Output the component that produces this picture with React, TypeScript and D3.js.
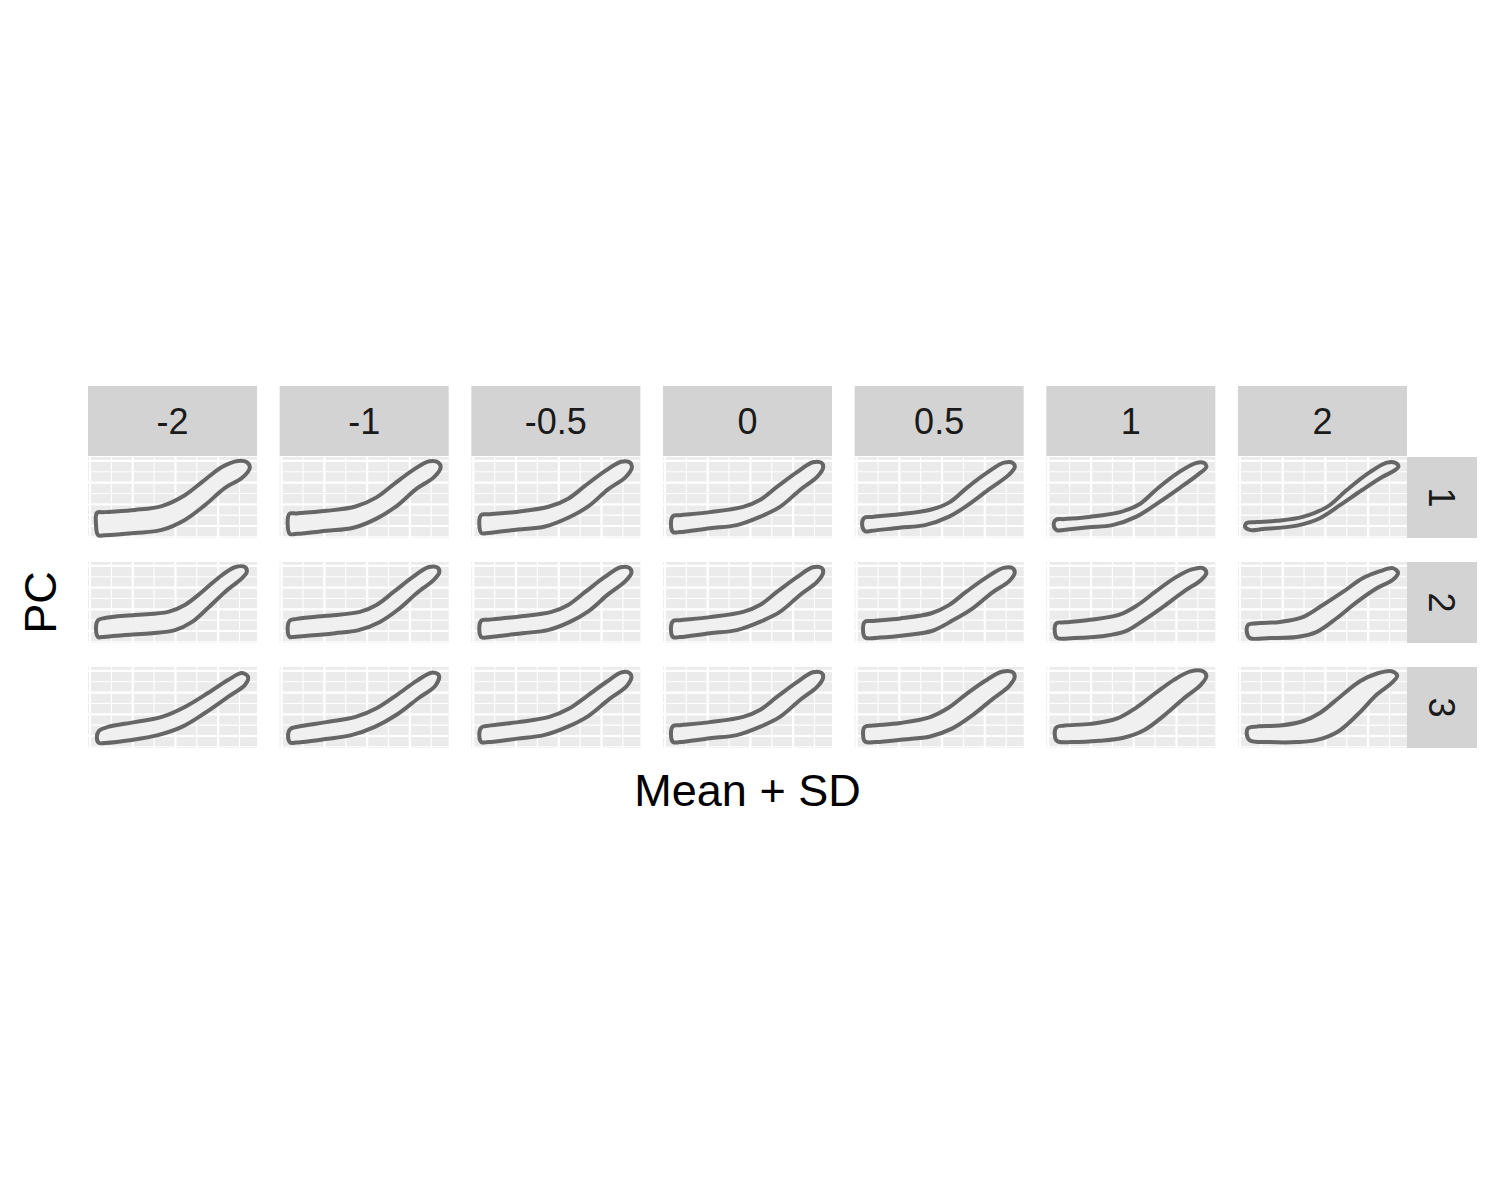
import * as d3 from "d3";

type Pt = [number, number];

// facet levels
const sdLevels = ["-2", "-1", "-0.5", "0", "0.5", "1", "2"];
const pcLevels = ["1", "2", "3"];

// panel scales (shape coordinate units)
const xLimits: [number, number] = [-0.47, 39.1];
const yLimits: [number, number] = [-2.76, 15.9];
const xMajorBreaks = [0, 10, 20, 30];
const xMinorBreaks = [5, 15, 25, 35];
const yMajorBreaks = [0, 5, 10, 15];
const yMinorBreaks = [-2.5, 2.5, 7.5, 12.5];

// outlines
const meanShape: Pt[] = [[1.9,2.3],[3.5,2.5],[10.5,3.2],[18.3,4.4],[22.2,6.0],[26.2,9.0],[30.9,12.4],[34.6,14.7],[36.7,14.5],[37.0,13.4],[35.6,11.3],[31.6,8.3],[26.9,4.4],[22.2,2.1],[16.8,0.2],[10.5,-0.5],[3.5,-1.4],[1.9,-1.4],[1.4,0.2]];

const pc1Shapes: Pt[][] = [
  [[1.6,3.0],[3.5,3.2],[10.5,3.7],[16.8,4.6],[22.2,7.1],[26.2,10.1],[30.9,13.6],[34.6,15.0],[36.7,14.7],[37.4,13.4],[35.6,11.1],[31.6,8.8],[26.9,4.8],[22.2,1.4],[16.8,-0.9],[10.5,-1.6],[3.5,-2.1],[1.9,-2.1],[1.4,0.5]],
  [[1.8,2.8],[3.5,2.9],[10.5,3.5],[17.3,4.5],[22.2,6.6],[26.2,9.6],[30.9,13.0],[34.6,14.9],[36.7,14.6],[37.2,13.4],[35.6,11.2],[31.6,8.6],[26.9,4.6],[22.2,1.7],[16.8,-0.4],[10.5,-1.1],[3.5,-1.8],[1.9,-1.8],[1.4,0.4]],
  [[1.8,2.5],[3.5,2.7],[10.5,3.3],[17.8,4.5],[22.2,6.3],[26.2,9.3],[30.9,12.7],[34.6,14.8],[36.7,14.6],[37.1,13.4],[35.6,11.2],[31.6,8.5],[26.9,4.5],[22.2,1.9],[16.8,-0.1],[10.5,-0.8],[3.5,-1.6],[1.9,-1.6],[1.4,0.3]],
  meanShape,
  [[1.8,1.9],[3.6,2.1],[10.0,2.7],[17.5,3.8],[21.8,5.5],[25.8,8.8],[30.7,12.4],[34.5,14.6],[36.6,14.5],[37.0,13.5],[35.4,11.6],[31.2,8.6],[26.0,4.8],[21.5,2.1],[16.0,0.2],[10.0,-0.4],[3.5,-1.1],[2.0,-1.2],[1.3,0.1]],
  [[1.7,1.4],[3.8,1.6],[9.6,2.1],[16.8,3.2],[21.3,5.0],[25.5,8.6],[30.6,12.4],[34.5,14.5],[36.5,14.5],[37.0,13.6],[35.1,11.9],[30.8,8.8],[25.2,5.0],[20.5,2.1],[15.0,0.2],[9.5,-0.3],[3.5,-0.9],[2.1,-1.0],[1.3,0]],
  [[1.6,0.7],[4.0,0.9],[8.7,1.2],[14.7,2.1],[20.4,4.4],[25.0,8.3],[30.4,12.4],[34.4,14.6],[36.3,14.6],[37.1,13.7],[36.2,12.8],[33.3,11.3],[28.6,8.3],[23.4,4.8],[18.7,1.8],[13.3,0.1],[5.4,-0.7],[2.3,-0.9],[1.2,-0.2]],
];

const pc2Shapes: Pt[][] = [
  [[1.9,2.5],[3.5,3.0],[10.5,3.7],[18.3,4.4],[22.2,6.0],[26.2,9.0],[30.0,12.2],[33.9,14.7],[36.3,14.7],[36.7,13.6],[35.6,12.2],[31.6,9.0],[27.6,5.3],[23.9,2.1],[19.9,0.2],[14.5,-0.5],[8.2,-0.9],[2.8,-1.4],[1.9,-1.4],[1.4,0.5]],
  [[1.9,2.4],[3.5,2.8],[10.5,3.5],[18.3,4.4],[22.2,6.0],[26.2,9.0],[30.5,12.3],[34.3,14.7],[36.5,14.6],[36.9,13.5],[35.6,11.8],[31.6,8.7],[27.2,4.9],[23.0,2.1],[18.0,0.2],[12.5,-0.5],[6.0,-1.1],[2.5,-1.4],[1.9,-1.4],[1.4,0.4]],
  [[1.9,2.4],[3.5,2.6],[10.5,3.3],[18.3,4.4],[22.2,6.0],[26.2,9.0],[30.7,12.4],[34.5,14.7],[36.6,14.5],[37.0,13.4],[35.6,11.5],[31.6,8.5],[27.0,4.6],[22.6,2.1],[17.4,0.2],[11.5,-0.5],[4.5,-1.3],[1.9,-1.4],[1.4,0.3]],
  meanShape,
  [[1.9,2.1],[3.6,2.3],[10.2,2.9],[17.5,4.1],[21.5,5.9],[25.6,9.0],[30.3,12.3],[34.2,14.5],[36.5,14.5],[37.0,13.4],[35.7,11.5],[31.8,8.9],[27.0,5.1],[22.4,2.4],[17.6,0],[11.8,-0.9],[5.5,-1.5],[2.0,-1.5],[1.5,0.1]],
  [[1.9,1.8],[3.8,2.0],[9.8,2.6],[16.5,3.7],[20.8,5.9],[25.0,9.0],[29.7,12.3],[33.6,14.2],[36.2,14.5],[37.0,13.4],[35.7,11.7],[32.0,9.3],[27.2,5.8],[22.5,2.6],[18.0,-0.1],[12.5,-1.2],[6.0,-1.6],[2.1,-1.6],[1.5,0]],
  [[1.9,1.4],[4.0,1.8],[9.4,2.1],[14.7,3.2],[19.4,6.0],[24.1,9.0],[28.8,12.2],[32.8,13.8],[35.8,14.5],[37.0,13.4],[35.8,11.8],[32.1,9.9],[27.4,6.7],[22.7,3.0],[18.0,-0.2],[13.3,-1.4],[7.0,-1.6],[2.3,-1.6],[1.6,-0.2]],
];

const pc3Shapes: Pt[][] = [
  [[2.1,1.2],[4.2,2.1],[10.5,3.2],[16.8,4.4],[22.2,6.7],[27.6,9.9],[32.3,12.9],[35.6,14.5],[37.0,13.6],[36.3,11.8],[32.3,9.0],[26.9,5.3],[21.5,2.1],[15.9,0.2],[9.8,-0.9],[3.5,-1.6],[2.1,-1.6],[1.6,-0.2]],
  [[2.0,1.6],[4.0,2.2],[10.5,3.2],[17.3,4.4],[22.2,6.4],[27.0,9.5],[31.6,12.7],[35.1,14.6],[36.8,14.0],[36.0,11.6],[32.0,8.7],[26.9,4.9],[21.8,2.1],[16.3,0.2],[10.2,-0.7],[3.5,-1.5],[2.0,-1.5],[1.5,0]],
  [[1.9,2.0],[3.7,2.4],[10.5,3.2],[17.8,4.4],[22.2,6.2],[26.6,9.2],[31.2,12.5],[34.8,14.7],[36.7,14.4],[37.0,13.4],[35.8,11.4],[31.8,8.5],[26.9,4.6],[22.0,2.1],[16.5,0.2],[10.3,-0.6],[3.5,-1.4],[1.9,-1.4],[1.4,0.1]],
  meanShape,
  [[1.9,2.1],[3.7,2.4],[10.2,3.0],[17.0,4.3],[21.5,6.5],[25.6,9.6],[30.2,12.8],[34.0,14.8],[36.5,14.7],[37.0,13.6],[35.7,11.5],[31.8,8.5],[27.0,4.7],[22.3,1.7],[17.2,-0.1],[11.0,-0.8],[4.5,-1.4],[2.0,-1.3],[1.5,0.3]],
  [[1.9,2.0],[3.8,2.4],[9.9,2.8],[16.0,4.0],[20.5,6.5],[25.0,9.8],[29.5,13.0],[33.3,14.9],[36.2,14.9],[37.0,13.8],[35.7,11.8],[32.0,8.9],[27.2,4.8],[22.5,1.4],[17.6,-0.4],[12.0,-1.1],[5.5,-1.4],[2.1,-1.2],[1.5,0.4]],
  [[1.9,1.8],[4.0,2.2],[9.4,2.4],[14.7,3.4],[18.7,5.3],[23.4,9.0],[28.1,12.6],[32.1,14.4],[35.6,14.9],[36.8,13.9],[35.6,12.3],[32.1,9.6],[27.6,5.0],[22.9,1.0],[18.0,-0.9],[13.3,-1.4],[7.0,-1.4],[2.3,-1.0],[1.6,0.4]],
];

const shapesByPc = [pc1Shapes, pc2Shapes, pc3Shapes];

const W = 1500;
const H = 1200;
const FONT = "'Liberation Sans', Arial, Helvetica, sans-serif";

export default function App() {
  const col = d3.scaleBand().domain(sdLevels).range([88, 1407]).paddingInner(0.118);
  const row = d3.scaleBand().domain(pcLevels).range([457, 748]).paddingInner(0.2286);
  const pw = col.bandwidth();
  const ph = row.bandwidth();

  const x = d3.scaleLinear().domain(xLimits).range([0, pw]);
  const y = d3.scaleLinear().domain(yLimits).range([ph, 0]);

  const outline = d3
    .line<Pt>()
    .x((d) => x(d[0]))
    .y((d) => y(d[1]))
    .curve(d3.curveCatmullRomClosed.alpha(0.5));

  const stripTop = 386;
  const stripH = 70;
  const stripX = 1407;
  const stripW = 70;

  return (
    <svg width={W} height={H} style={{ position: "absolute", left: 0, top: 0, background: "#fff" }}>
      <rect width={W} height={H} fill="#fff" />
      {/* column strips */}
      {sdLevels.map((s) => (
        <g key={"cs" + s} transform={`translate(${col(s)},${stripTop})`}>
          <rect width={pw} height={stripH} fill="#D3D3D3" />
          <text x={pw / 2} y={stripH / 2} dy="0.36em" textAnchor="middle" fontFamily={FONT} fontSize={36} fill="#1A1A1A">
            {s}
          </text>
        </g>
      ))}
      {/* row strips */}
      {pcLevels.map((p) => (
        <g key={"rs" + p} transform={`translate(${stripX},${row(p)})`}>
          <rect width={stripW} height={ph} fill="#D3D3D3" />
          <text transform={`translate(${stripW / 2},${ph / 2}) rotate(90)`} dy="0.36em" textAnchor="middle" fontFamily={FONT} fontSize={36} fill="#1A1A1A">
            {p}
          </text>
        </g>
      ))}
      {/* panels */}
      {pcLevels.map((p, ri) =>
        sdLevels.map((s, ci) => (
          <g key={p + "_" + s} transform={`translate(${col(s)},${row(p)})`}>
            <rect width={pw} height={ph} fill="#EBEBEB" />
            {yMinorBreaks.map((v) => (
              <line key={"ym" + v} x1={0} x2={pw} y1={y(v)} y2={y(v)} stroke="#fff" strokeWidth={1.1} />
            ))}
            {xMinorBreaks.map((v) => (
              <line key={"xm" + v} x1={x(v)} x2={x(v)} y1={0} y2={ph} stroke="#fff" strokeWidth={1.1} />
            ))}
            {yMajorBreaks.map((v) => (
              <line key={"yM" + v} x1={0} x2={pw} y1={y(v)} y2={y(v)} stroke="#fff" strokeWidth={2.2} />
            ))}
            {xMajorBreaks.map((v) => (
              <line key={"xM" + v} x1={x(v)} x2={x(v)} y1={0} y2={ph} stroke="#fff" strokeWidth={2.2} />
            ))}
            <path d={outline(shapesByPc[ri][ci]) ?? ""} fill="#F0F0F0" stroke="#666666" strokeWidth={4} strokeLinejoin="round" />
          </g>
        ))
      )}
      {/* axis titles */}
      <text x={(88 + 1407) / 2} y={806} textAnchor="middle" fontFamily={FONT} fontSize={45} fill="#000">
        Mean + SD
      </text>
      <text transform={`translate(56,${(457 + 748) / 2}) rotate(-90)`} textAnchor="middle" fontFamily={FONT} fontSize={45} fill="#000">
        PC
      </text>
    </svg>
  );
}
